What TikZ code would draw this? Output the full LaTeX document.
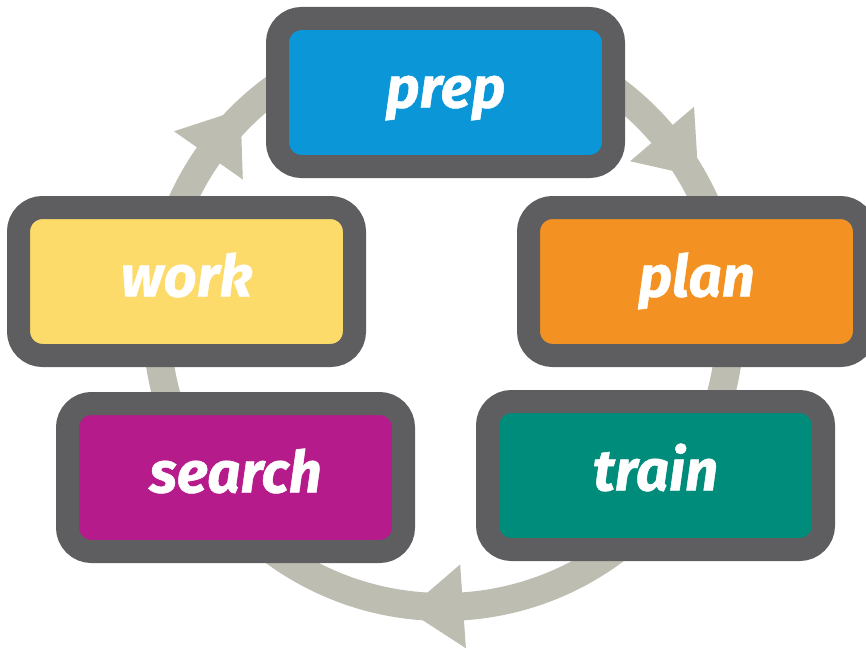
\documentclass[tikz,border=0pt]{standalone}
\usepackage{fontspec}
\setmainfont{Fira Sans}
\newfontfamily\labfont[FakeBold=0.8]{Fira Sans}
\usetikzlibrary{calc}
\definecolor{ringc}{HTML}{BDBDB1}
\definecolor{edgec}{HTML}{5E5E60}
\definecolor{cprep}{HTML}{0A96D7}
\definecolor{cwork}{HTML}{FDDB6A}
\definecolor{cplan}{HTML}{F39222}
\definecolor{csearch}{HTML}{B51B8B}
\definecolor{ctrain}{HTML}{008C7A}
\begin{document}
\begin{tikzpicture}[x=1pt,y=1pt,
  stage/.style={draw=edgec, line width=23pt, rounded corners=24pt,
    minimum width=336pt, minimum height=148pt, inner sep=0pt},
  lab/.style={text=white, font=\labfont\fontsize{58}{58}\selectfont\bfseries\itshape,
    anchor=base, inner sep=0pt},
  ringline/.style={draw=ringc, line width=28pt},
  head/.style={fill=ringc}]
\useasboundingbox (0,0) rectangle (866,-650);
\clip (0,0) rectangle (866,-650);
\coordinate (c) at (443.5,-320);
\draw[ringline] (c) circle (287);
\fill[head] ($(c)+(145:329)$) -- ($(c)+(145:287)+(55:56)$) -- ($(c)+(145:245)$) -- cycle;
\fill[head] ($(c)+(40.4:329)$) -- ($(c)+(40.4:287)+(-49.6:56)$) -- ($(c)+(40.4:245)$) -- cycle;
\fill[head] ($(c)+(-86.1:329)$) -- ($(c)+(-86.1:287)+(-176.1:56)$) -- ($(c)+(-86.1:245)$) -- cycle;
\node[stage, fill=cprep] (prep) at (445.5,-92.5) {};
\node[stage, fill=cwork] (work) at (186.5,-281.5) {};
\node[stage, fill=cplan] (plan) at (696.5,-281.5) {};
\node[stage, fill=csearch] (search) at (235.5,-477.5) {};
\node[stage, fill=ctrain] (train) at (655.5,-475.5) {};
\node[lab] (prepL) at ($(prep.center)+(0,-15)$) {prep};
\node[lab] (workL) at ($(work.center)+(0,-15)$) {work};
\node[lab] (planL) at ($(plan.center)+(0,-15)$) {plan};
\node[lab] (searchL) at ($(search.center)+(0,-15)$) {search};
\node[lab] (trainL) at ($(train.center)+(0,-15)$) {train};
\end{tikzpicture}
\end{document}
